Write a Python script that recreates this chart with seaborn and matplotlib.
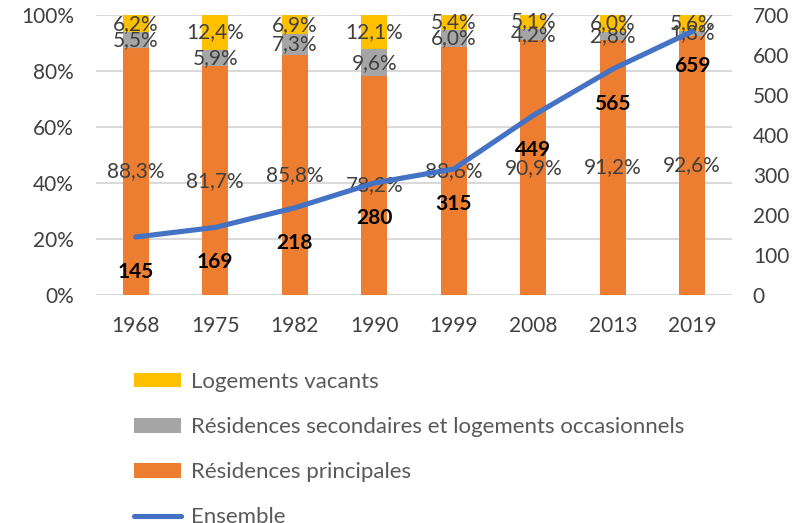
import numpy as np
import pandas as pd
import matplotlib
matplotlib.use("Agg")
import matplotlib.pyplot as plt
import seaborn as sns
from matplotlib.patches import Patch
from matplotlib.lines import Line2D

years = ["1968", "1975", "1982", "1990", "1999", "2008", "2013", "2019"]
principales = [88.3, 81.7, 85.8, 78.2, 88.6, 90.9, 91.2, 92.6]
secondaires = [5.5, 5.9, 7.3, 9.6, 6.0, 4.2, 2.8, 1.8]
vacants = [6.2, 12.4, 6.9, 12.1, 5.4, 5.1, 6.0, 5.6]
ensemble = [145, 169, 218, 280, 315, 449, 565, 659]

labels_series = ["Logements vacants",
                 "Résidences secondaires et logements occasionnels",
                 "Résidences principales", "Ensemble"]

C_ORANGE = "#ED7D31"
C_GRAY = "#A5A5A5"
C_YELLOW = "#FFC000"
C_BLUE = "#4472C4"
TXT = "#404040"
FS = 15

sns.set_theme(style="white")
plt.rcParams["font.family"] = ["Lato", "DejaVu Sans"]

fig = plt.figure(figsize=(7.97, 5.23), dpi=100)
ax = fig.add_axes([96 / 797, 1 - 295 / 523, 636 / 797, 280 / 523])

df = pd.DataFrame({"year": years, "p": principales, "s": secondaires, "v": vacants})
df["ps"] = df["p"] + df["s"]
df["psv"] = df["ps"] + df["v"]

bw = 0.33
sns.barplot(data=df, x="year", y="psv", color=C_YELLOW, width=bw, ax=ax,
            saturation=1, linewidth=0)
sns.barplot(data=df, x="year", y="ps", color=C_GRAY, width=bw, ax=ax,
            saturation=1, linewidth=0)
sns.barplot(data=df, x="year", y="p", color=C_ORANGE, width=bw, ax=ax,
            saturation=1, linewidth=0)

ax.set_ylim(0, 100)
ax.set_xlim(-0.5, len(years) - 0.5)
ax.set_yticks(np.arange(0, 101, 20))
ax.set_yticklabels([f"{v}%" for v in range(0, 101, 20)], color=TXT, fontsize=FS)
ax.set_xticks(range(len(years)))
ax.set_xticklabels(years, color=TXT, fontsize=FS)
ax.set_xlabel("")
ax.set_ylabel("")
ax.yaxis.grid(True, color="#D9D9D9", linewidth=1.5)
ax.set_axisbelow(True)
for s in ax.spines.values():
    s.set_visible(False)
ax.tick_params(axis="y", length=0, pad=16)
ax.tick_params(axis="x", length=0, pad=15)

def fmt(v):
    return f"{v:.1f}%".replace(".", ",")

for i in range(len(years)):
    p, s, v = principales[i], secondaires[i], vacants[i]
    ax.text(i, p / 2, fmt(p), ha="center", va="center", fontsize=FS, color=TXT)
    ax.text(i, p + s / 2, fmt(s), ha="center", va="center", fontsize=FS, color=TXT)
    ax.text(i, p + s + v / 2, fmt(v), ha="center", va="center",
            fontsize=FS, color=TXT)

ax2 = ax.twinx()
sns.pointplot(x=years, y=ensemble, ax=ax2, color=C_BLUE, marker="",
              linewidth=3.7, errorbar=None)
ax2.set_ylim(0, 700)
ax2.set_xlim(-0.5, len(years) - 0.5)
ax2.set_yticks(np.arange(0, 701, 100))
ax2.set_yticklabels([str(v) for v in range(0, 701, 100)], color=TXT, fontsize=FS)
ax2.set_ylabel("")
for s in ax2.spines.values():
    s.set_visible(False)
ax2.tick_params(axis="both", length=0, pad=15)
for i, val in enumerate(ensemble):
    ax2.annotate(str(val), (i, val), xytext=(0, -25), textcoords="offset points",
                 ha="center", va="center", fontsize=FS, fontweight="bold",
                 color="black")

handles = [Patch(facecolor=C_YELLOW, edgecolor="none"),
           Patch(facecolor=C_GRAY, edgecolor="none"),
           Patch(facecolor=C_ORANGE, edgecolor="none"),
           Line2D([0], [0], color=C_BLUE, linewidth=3.7)]
fig.legend(handles, labels_series, loc="upper left",
           bbox_to_anchor=(114 / 797, 1 - 352 / 523), frameon=False,
           fontsize=16, labelcolor="#595959", handlelength=2.12,
           handleheight=0.63, handletextpad=0.45, labelspacing=1.13)

fig.savefig("out.png", dpi=100)
